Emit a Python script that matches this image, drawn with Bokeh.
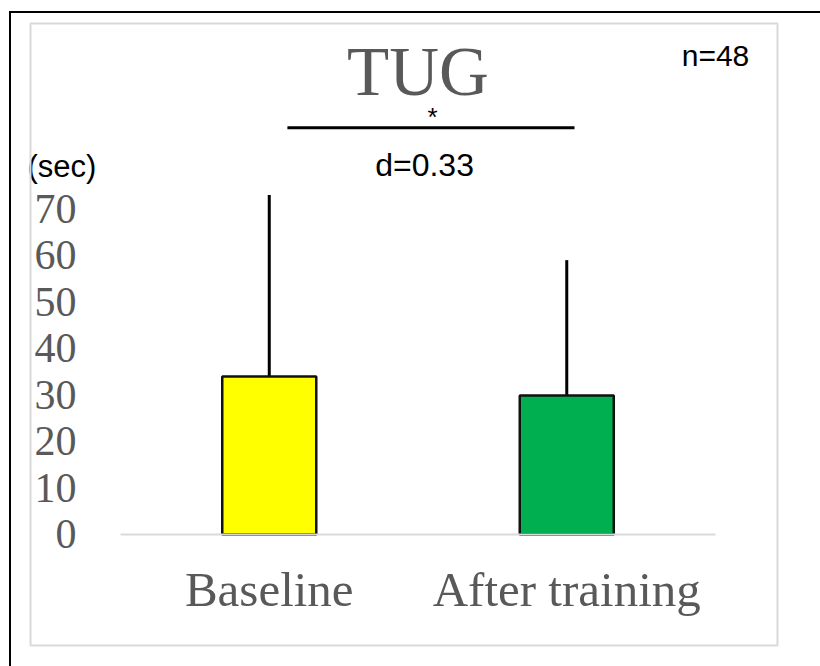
from bokeh.plotting import figure
from bokeh.models import (ColumnDataSource, Range1d, FixedTicker, Label, Arrow, BoxAnnotation)
from bokeh.embed import file_html
from bokeh.resources import INLINE

# ---- data ----
categories = ["Baseline", "After training"]
means = [34.0, 29.9]
sds = [39.0, 29.1]
bar_colors = ["#FFFF00", "#00B050"]
y_ticks = [0, 10, 20, 30, 40, 50, 60, 70]
title_text = "TUG"
n_text = "n=48"
effect_text = "d=0.33"
sig_text = "*"
unit_text = "(sec)"

xpos = [i + 0.5 for i in range(len(categories))]
upper = [m + s for m, s in zip(means, sds)]
src = ColumnDataSource(dict(x=xpos, mean=means, upper=upper, color=bar_colors))

W, H = 820, 666
p = figure(x_range=Range1d(-0.4034, 2.3529), y_range=Range1d(-28.39, 114.84),
           width=W, height=H, output_backend="svg", toolbar_location=None,
           min_border=0, min_border_left=0, min_border_right=0,
           min_border_top=0, min_border_bottom=0)
p.outline_line_color = None
p.grid.grid_line_color = None
p.background_fill_color = "white"
p.border_fill_color = "white"

# bars and upper error lines
p.segment(x0="x", y0="mean", x1="x", y1="upper", source=src, line_color="black", line_width=3)
p.vbar(x="x", top="mean", width=0.316, source=src, fill_color="color",
       line_color="#111111", line_width=2.5)

serif = "Liberation Serif"
sans = "Liberation Sans"

# axes
p.yaxis.fixed_location = 0
p.yaxis.ticker = FixedTicker(ticks=y_ticks)
p.yaxis.axis_line_color = None
p.yaxis.major_tick_line_color = None
p.yaxis.minor_tick_line_color = None
p.yaxis.major_label_text_font = serif
p.yaxis.major_label_text_font_size = "42px"
p.yaxis.major_label_text_color = "#595959"
p.yaxis.major_label_standoff = 38

p.xaxis.fixed_location = 0
p.xaxis.bounds = (0, len(categories))
p.xaxis.ticker = FixedTicker(ticks=xpos)
p.xaxis.major_label_overrides = {x: c for x, c in zip(xpos, categories)}
p.xaxis.axis_line_color = "#D9D9D9"
p.xaxis.axis_line_width = 2
p.xaxis.major_tick_line_color = None
p.xaxis.minor_tick_line_color = None
p.xaxis.major_label_text_font = serif
p.xaxis.major_label_text_font_size = "49px"
p.xaxis.major_label_text_color = "#595959"
p.xaxis.major_label_standoff = 22

# texts
p.add_layout(Label(x=1.0, y=99.4, text=title_text, text_font=serif, text_font_size="69px",
                   text_color="#595959", text_align="center", text_baseline="middle"))
p.add_layout(Label(x=2.0, y=103.0, text=n_text, text_font=sans, text_font_size="30px",
                   text_color="black", text_align="center", text_baseline="middle"))
p.add_layout(Arrow(end=None, x_start=0.561, y_start=87.5, x_end=1.526, y_end=87.5,
                   line_color="black", line_width=3))
p.add_layout(Label(x=1.049, y=86.6, text=sig_text, text_font=sans, text_font_size="26px",
                   text_color="black", text_align="center", text_baseline="bottom"))
p.add_layout(Label(x=1.022, y=79.4, text=effect_text, text_font=sans, text_font_size="32px",
                   text_color="black", text_align="center", text_baseline="middle"))
p.add_layout(Label(x=-0.3126, y=79.1, text=unit_text, text_font=sans, text_font_size="31px",
                   text_color="black", text_align="left", text_baseline="middle"))

# chart borders
p.add_layout(BoxAnnotation(left=30, right=777, top=23, bottom=645,
                           left_units="canvas", right_units="canvas",
                           top_units="canvas", bottom_units="canvas",
                           fill_alpha=0, line_alpha=1.0, line_color="#D9D9D9", line_width=2))
# outer frame: only its left and top edges fall inside the picture
p.add_layout(BoxAnnotation(left=8.5, right=10.5, top=10.5, bottom=H,
                           left_units="canvas", right_units="canvas",
                           top_units="canvas", bottom_units="canvas",
                           fill_color="black", fill_alpha=1.0, line_alpha=0))
p.add_layout(BoxAnnotation(left=8.5, right=W, top=10.5, bottom=12.5,
                           left_units="canvas", right_units="canvas",
                           top_units="canvas", bottom_units="canvas",
                           fill_color="black", fill_alpha=1.0, line_alpha=0))

open("out.html", "w").write(file_html(p, INLINE))
